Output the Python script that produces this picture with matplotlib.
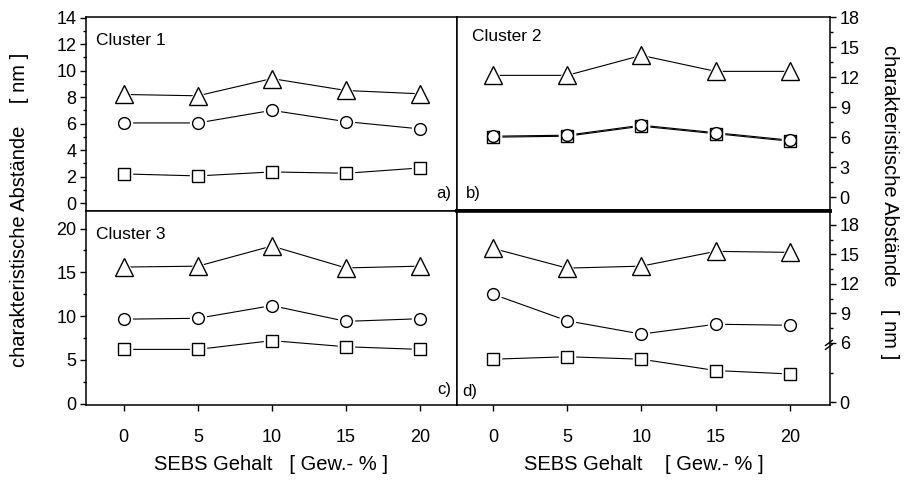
import matplotlib
matplotlib.use("Agg")
import matplotlib.pyplot as plt
import matplotlib.transforms as mtransforms
from matplotlib.ticker import FixedLocator

plt.rcParams['font.family'] = ['Liberation Sans', 'DejaVu Sans']

# SEBS content in wt-%
sebs = [0, 5, 10, 15, 20]

# characteristic distances (nm) per cluster: triangle / circle / square series
c1_tri = [8.2, 8.1, 9.4, 8.5, 8.25]
c1_circ = [6.05, 6.05, 7.0, 6.15, 5.6]
c1_sq = [2.2, 2.05, 2.35, 2.25, 2.65]

c2_tri = [12.2, 12.2, 14.2, 12.6, 12.6]
c2_circ = [6.1, 6.2, 7.2, 6.45, 5.7]
c2_sq = [6.0, 6.1, 7.1, 6.35, 5.6]

c3_tri = [15.6, 15.7, 18.0, 15.5, 15.7]
c3_circ = [9.65, 9.75, 11.2, 9.4, 9.7]
c3_sq = [6.2, 6.2, 7.2, 6.5, 6.2]

c4_tri = [15.6, 13.6, 13.8, 15.3, 15.2]
c4_circ = [10.95, 8.25, 6.9, 7.9, 7.8]
c4_sq = [4.35, 4.6, 4.35, 3.2, 2.85]

W, H = 906, 487
fig = plt.figure(figsize=(W / 100, H / 100), dpi=100)


def rect(x0, y0, x1, y1):
    return [x0 / W, 1 - y1 / H, (x1 - x0) / W, (y1 - y0) / H]


def series(ax, y, marker, size):
    # white halo under each marker so the line stops short of it
    ax.plot(sebs, y, '-', color='black', lw=0.8, zorder=2)
    ax.plot(sebs, y, marker, ms=size + 3, mfc='white', mec='white', mew=1, ls='none', zorder=3)
    ax.plot(sebs, y, marker, ms=size, mfc='white', mec='black', mew=1.0, ls='none', zorder=4)


def setup(ax, xlim, ylim, major, minor, side, xlabels):
    ax.set_xlim(*xlim)
    ax.set_ylim(*ylim)
    ax.xaxis.set_major_locator(FixedLocator(sebs))
    ax.yaxis.set_major_locator(FixedLocator(major))
    ax.yaxis.set_minor_locator(FixedLocator(minor))
    ax.tick_params(axis='both', which='major', direction='out', length=4, width=1,
                   labelsize=13, pad=3)
    ax.tick_params(axis='y', which='minor', direction='out', length=2.5, width=1)
    ax.tick_params(axis='x', labelbottom=xlabels, pad=13)
    if side == 'right':
        ax.yaxis.tick_right()
    for s in ax.spines.values():
        s.set_linewidth(1.1)


ax1 = fig.add_axes(rect(86, 17, 457, 211))
ax2 = fig.add_axes(rect(457, 17, 830, 211))
ax3 = fig.add_axes(rect(86, 211, 457, 405))
ax4 = fig.add_axes(rect(457, 211, 830, 405))

left_x = (-2.55, 22.5)
right_x = (-2.42, 22.7)
setup(ax1, left_x, (-0.6, 14.05), range(0, 15, 2), range(1, 15, 2), 'left', False)
setup(ax2, right_x, (-1.4, 18.05), range(0, 19, 3), [1.5, 4.5, 7.5, 10.5, 13.5, 16.5], 'right', False)
setup(ax3, left_x, (-0.15, 22.0), range(0, 21, 5), [2.5, 7.5, 12.5, 17.5], 'left', True)
setup(ax4, right_x, (-0.3, 19.4), [0, 6, 9, 12, 15, 18], [3, 7.5, 10.5, 13.5, 16.5], 'right', True)
ax2.spines['bottom'].set_linewidth(2.6)
ax4.spines['top'].set_linewidth(2.6)

for ax, tri, circ, sq in [(ax1, c1_tri, c1_circ, c1_sq), (ax2, c2_tri, c2_circ, c2_sq),
                          (ax3, c3_tri, c3_circ, c3_sq), (ax4, c4_tri, c4_circ, c4_sq)]:
    series(ax, tri, '^', 13)
    series(ax, sq, 's', 8)
    series(ax, circ, 'o', 8.5)

# cluster names and panel letters
ax1.text(0.027, 0.88, 'Cluster 1', transform=ax1.transAxes, fontsize=12.5, va='center')
ax2.text(0.04, 0.90, 'Cluster 2', transform=ax2.transAxes, fontsize=12.5, va='center')
ax3.text(0.027, 0.88, 'Cluster 3', transform=ax3.transAxes, fontsize=12.5, va='center')
ax1.text(0.985, 0.09, 'a)', transform=ax1.transAxes, fontsize=12, ha='right', va='center')
ax2.text(0.025, 0.09, 'b)', transform=ax2.transAxes, fontsize=12, ha='left', va='center')
ax3.text(0.985, 0.08, 'c)', transform=ax3.transAxes, fontsize=12, ha='right', va='center')
ax4.text(0.015, 0.07, 'd)', transform=ax4.transAxes, fontsize=12, ha='left', va='center')

# axis break mark on the right scale of panel d
brk = mtransforms.blended_transform_factory(ax4.transAxes, ax4.transData)
for dy in (-0.35, 0.05):
    ax4.plot([0.988, 1.006], [5.7 + dy, 6.2 + dy], color='black', lw=1.0,
             transform=brk, clip_on=False)

ax3.set_xlabel('SEBS Gehalt   [ Gew.- % ]', fontsize=14.5, labelpad=7)
ax4.set_xlabel('SEBS Gehalt    [ Gew.- % ]', fontsize=14.5, labelpad=7)

fig.text(20 / W, 1 - 210 / H, 'charakteristische Abstände    [ nm ]', rotation=90,
         fontsize=14.5, ha='center', va='center')
fig.text(890 / W, 1 - 202 / H, 'charakteristische Abstände    [ nm ]', rotation=270,
         fontsize=14.5, ha='center', va='center')

fig.savefig('out.png', dpi=100)
